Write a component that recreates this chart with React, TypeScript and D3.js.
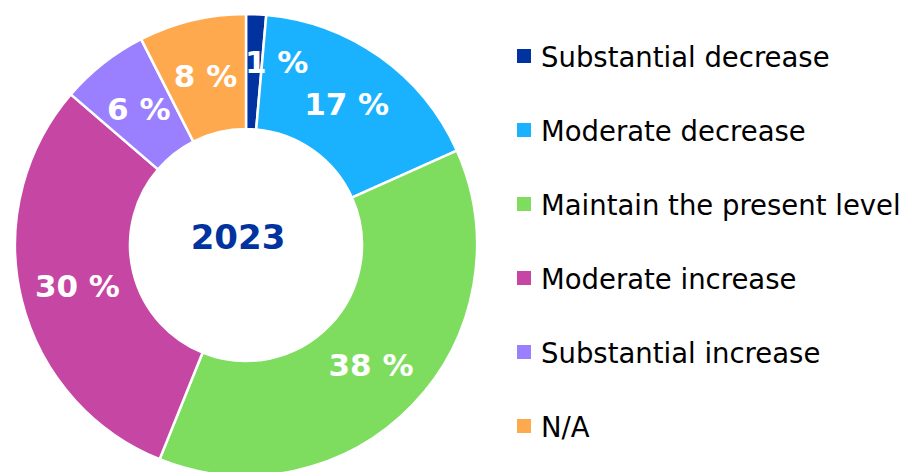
import React from "react";
import * as d3 from "d3";

const categories = [
  "Substantial decrease",
  "Moderate decrease",
  "Maintain the present level",
  "Moderate increase",
  "Substantial increase",
  "N/A",
];
const values = [1.4, 16.9, 37.8, 30.2, 6.2, 7.5];
const colors = ["#0033A0", "#1AB2FF", "#7EDD5E", "#C646A4", "#9A80FF", "#FFA94E"];
const centerLabel = "2023";

const W = 909;
const H = 472;
const cx = 246;
const cy = 245;
const outerR = 231;
const innerR = 116;
const font = "'DejaVu Sans', Verdana, sans-serif";

export default function App() {
  const pie = d3
    .pie<number>()
    .sort(null)
    .value((d) => d)(values);
  const arc = d3.arc<d3.PieArcDatum<number>>().innerRadius(innerR).outerRadius(outerR);

  const legendY = d3.scalePoint<string>().domain(categories).range([56, 426]);

  return (
    <svg
      width={W}
      height={H}
      style={{ position: "absolute", left: 0, top: 0, background: "#fff" }}
      fontFamily={font}
    >
      <g transform={`translate(${cx},${cy})`}>
        {pie.map((p, i) => (
          <path key={i} d={arc(p) || ""} fill={colors[i]} stroke="#fff" strokeWidth={2.5} />
        ))}
        {pie.map((p, i) => {
          let [x, y] = arc.centroid(p);
          // the tiny first slice's label is nudged outward/right, as in the reference
          if (i === 0) {
            x += 23;
            y -= 10;
          }
          return (
            <text
              key={"l" + i}
              x={x}
              y={y}
              textAnchor="middle"
              dominantBaseline="central"
              fill="#fff"
              fontWeight="bold"
              fontSize={31}
            >
              {`${Math.round(p.data)} %`}
            </text>
          );
        })}
        <text
          x={-8}
          y={-8}
          textAnchor="middle"
          dominantBaseline="central"
          fill="#0033A0"
          fontWeight="bold"
          fontSize={34}
        >
          {centerLabel}
        </text>
      </g>
      <g>
        {categories.map((c, i) => {
          const y = legendY(c) as number;
          return (
            <g key={c}>
              <rect x={517} y={y - 7} width={14} height={14} fill={colors[i]} />
              <text x={541} y={y + 11} fontSize={27.5} fill="#000">
                {c}
              </text>
            </g>
          );
        })}
      </g>
    </svg>
  );
}
